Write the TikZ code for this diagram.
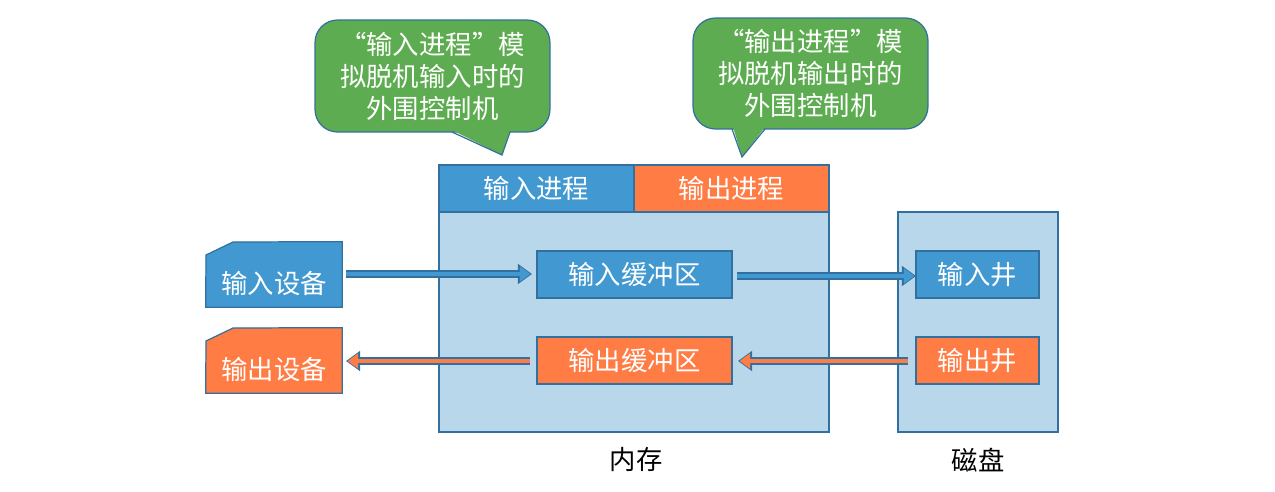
\documentclass[tikz,border=0pt]{standalone}
\usepackage{fontspec}
\setmainfont{Noto Sans CJK SC}
\usetikzlibrary{arrows.meta}
\definecolor{bluef}{HTML}{4299D1}
\definecolor{orangef}{HTML}{FF7C44}
\definecolor{lightf}{HTML}{B8D7EB}
\definecolor{greenf}{HTML}{5EAC51}
\definecolor{edge}{HTML}{31709F}
\begin{document}
\begin{tikzpicture}[x=0.02cm,y=-0.02cm,
  lbl/.style={font=\fontsize{15}{18}\selectfont},
  box/.style={draw=edge, line width=0.7pt, inner sep=0pt, text=white, lbl},
  bluebox/.style={box, fill=bluef},
  orangebox/.style={box, fill=orangef},
  lightbox/.style={box, fill=lightf},
  callout/.style={box, fill=greenf, rounded corners=0.45cm, align=center, font=\fontsize{15}{18.2}\selectfont},
  barrowout/.style={draw=edge, line width=4.2pt, -{Triangle[length=8pt,width=11pt]}},
  barrowin/.style={line width=2.8pt, -{Triangle[length=6pt,width=8.4pt]}, shorten >=0.9pt},
]
\useasboundingbox (0,0) rectangle (1275,491);

% memory and disk
\node[lightbox, minimum width=7.8cm, minimum height=4.4cm] (mem) at (634,322) {};
\node[bluebox, minimum width=3.9cm, minimum height=0.94cm] (inproc) at (536.5,188.5) {输入进程};
\node[orangebox, minimum width=3.9cm, minimum height=0.94cm] (outproc) at (731.5,188.5) {输出进程};
\node[lightbox, minimum width=3.2cm, minimum height=4.4cm] (disk) at (978,322) {};

\node[bluebox, minimum width=3.9cm, minimum height=0.94cm] (inbuf) at (634.5,274.5) {输入缓冲区};
\node[orangebox, minimum width=3.9cm, minimum height=0.94cm] (outbuf) at (634.5,360.5) {输出缓冲区};
\node[bluebox, minimum width=2.46cm, minimum height=0.94cm] (inwell) at (977.5,274.5) {输入井};
\node[orangebox, minimum width=2.46cm, minimum height=0.94cm] (outwell) at (977.5,360.5) {输出井};

\node[lbl] (memlbl) at (636,460) {内存};
\node[lbl] (disklbl) at (978,460) {磁盘};

% devices
\node[minimum width=2.72cm, minimum height=1.3cm, inner sep=0pt] (indev) at (274,274.5) {};
\draw[draw=edge, line width=0.7pt, fill=bluef] (indev.south west) -- (206,255) -- (233,242) -- (indev.north east) -- (indev.south east) -- cycle;
\node[lbl, text=white] (indevt) at (274,283) {输入设备};
\node[minimum width=2.72cm, minimum height=1.3cm, inner sep=0pt] (outdev) at (274,360.5) {};
\draw[draw=edge, line width=0.7pt, fill=orangef] (outdev.south west) -- (206,341) -- (233,328) -- (outdev.north east) -- (outdev.south east) -- cycle;
\node[lbl, text=white] (outdevt) at (274,369) {输出设备};

% arrows
\coordinate (a1s) at (346,274);
\coordinate (a1e) at (532,274);
\draw[barrowout] (a1s) -- (a1e);
\draw[barrowin, bluef] (a1s) -- (a1e);
\coordinate (a2s) at (737,276);
\coordinate (a2e) at (916,276);
\draw[barrowout] (a2s) -- (a2e);
\draw[barrowin, bluef] (a2s) -- (a2e);
\coordinate (a3s) at (908,361);
\coordinate (a3e) at (738,361);
\draw[barrowout] (a3s) -- (a3e);
\draw[barrowin, orangef] (a3s) -- (a3e);
\coordinate (a4s) at (530,361);
\coordinate (a4e) at (346,361);
\draw[barrowout] (a4s) -- (a4e);
\draw[barrowin, orangef] (a4s) -- (a4e);

% callouts
\node[callout, minimum width=4.7cm, minimum height=2.24cm] (cl) at (432.5,76) {“输入进程”模\\拟脱机输入时的\\外围控制机};
\fill[greenf] (452,130) -- (502,155) -- (510,130) -- cycle;
\draw[edge, line width=0.7pt, line join=miter] (452,132) -- (502,155) -- (510,132);
\node[callout, minimum width=4.7cm, minimum height=2.22cm] (cr) at (810.5,73.5) {“输出进程”模\\拟脱机输出时的\\外围控制机};
\fill[greenf] (733,127) -- (742,157) -- (765,127) -- cycle;
\draw[edge, line width=0.7pt, line join=miter] (732,129) -- (742,157) -- (765,129);
\end{tikzpicture}
\end{document}
